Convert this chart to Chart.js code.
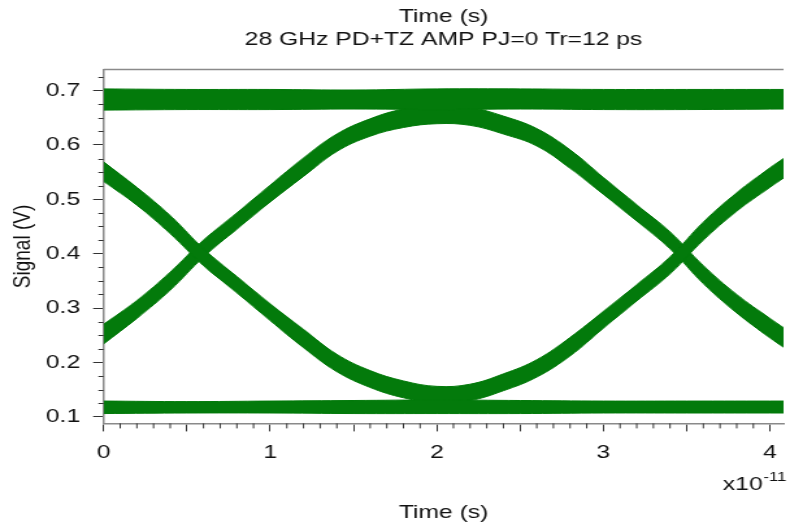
<!DOCTYPE html>
<html>
<head>
<meta charset="utf-8">
<script src="https://cdn.jsdelivr.net/npm/chart.js@4.4.1/dist/chart.umd.min.js"></script>
<style>
  html, body { margin: 0; padding: 0; background: #fff; }
</style>
</head>
<body>
<!-- the source picture is stretched sideways, so the canvas is drawn narrow and shown wide -->
<canvas id="eye" width="608" height="526" style="display:block;width:790px;height:526px"></canvas>
<script>
// time in units of 1e-11 s
const edgeTime = [0, 0.2, 0.4, 0.6, 0.8, 1.0, 1.2, 1.4, 1.6, 1.8, 2.0, 2.2, 2.4, 2.6, 2.8, 3.0, 3.2, 3.4, 3.6, 3.8, 4.0, 4.081];

// lower arc of the eye (falls from the left, rises to the right)
const lowArcTop = [0.569, 0.522, 0.470, 0.409, 0.358, 0.308, 0.261, 0.215, 0.185, 0.166, 0.156, 0.160, 0.179, 0.205, 0.246, 0.294, 0.343, 0.394, 0.458, 0.512, 0.558, 0.575];
const lowArcBot = [0.533, 0.489, 0.437, 0.378, 0.328, 0.277, 0.227, 0.183, 0.154, 0.135, 0.126, 0.130, 0.148, 0.173, 0.212, 0.263, 0.313, 0.363, 0.425, 0.478, 0.522, 0.539];

// upper arc of the eye (rises from the left, falls to the right)
const highArcTop = [0.270, 0.314, 0.366, 0.425, 0.475, 0.526, 0.576, 0.620, 0.648, 0.666, 0.672, 0.669, 0.653, 0.630, 0.591, 0.540, 0.490, 0.440, 0.378, 0.325, 0.281, 0.264];
const highArcBot = [0.234, 0.281, 0.333, 0.394, 0.445, 0.495, 0.542, 0.588, 0.616, 0.632, 0.639, 0.636, 0.620, 0.598, 0.557, 0.509, 0.460, 0.409, 0.345, 0.291, 0.245, 0.228];

// the flat "1" and "0" levels
const railTime = [0, 0.5, 1.0, 1.5, 2.0, 2.5, 3.0, 3.5, 4.081];
const oneTop = [0.703, 0.702, 0.702, 0.701, 0.703, 0.703, 0.702, 0.702, 0.702];
const oneBot = [0.664, 0.665, 0.665, 0.666, 0.665, 0.666, 0.665, 0.665, 0.666];
const zeroTop = [0.129, 0.128, 0.129, 0.130, 0.131, 0.130, 0.129, 0.129, 0.129];
const zeroBot = [0.106, 0.107, 0.107, 0.106, 0.106, 0.106, 0.107, 0.107, 0.107];

const timeTicks = [0, 0.5, 1, 1.5, 2, 2.5, 3, 3.5, 4];
const voltTicks = [0.1, 0.2, 0.3, 0.4, 0.5, 0.6, 0.7];

const green = '#037a0b';
const font = '"Liberation Sans", Arial, sans-serif';

function pts(xs, ys) {
  return xs.map((t, i) => ({ x: t, y: ys[i] }));
}

// every band is a lower edge plus an upper edge filled down to it
function band(xs, top, bot) {
  const common = {
    borderColor: green,
    backgroundColor: green,
    borderWidth: 1,
    pointRadius: 0,
    tension: 0.4
  };
  return [
    { ...common, data: pts(xs, bot), fill: false },
    { ...common, data: pts(xs, top), fill: '-1' }
  ];
}

const frame = {
  id: 'frame',
  afterDraw(chart) {
    const { ctx, chartArea: a, scales: { x, y } } = chart;
    ctx.save();
    ctx.strokeStyle = '#8a8a8a';
    ctx.lineWidth = 1.5;
    ctx.beginPath();
    ctx.moveTo(a.left, a.top);
    ctx.lineTo(a.right, a.top);
    ctx.stroke();

    // minor ticks
    ctx.strokeStyle = '#333';
    ctx.lineWidth = 1;
    ctx.beginPath();
    for (let i = 1; i <= 40; i++) {
      if (i % 5 === 0) continue;
      const px = x.getPixelForValue(i / 10);
      ctx.moveTo(px, a.bottom);
      ctx.lineTo(px, a.bottom + 5);
    }
    for (let k = 5; k <= 29; k++) {
      if (k % 4 === 0) continue;
      const py = Math.round(y.getPixelForValue(k * 0.025)) + 0.5;
      ctx.moveTo(a.left - 4, py);
      ctx.lineTo(a.left, py);
    }
    ctx.stroke();

    // axis multiplier
    ctx.fillStyle = '#111';
    ctx.font = '19px ' + font;
    ctx.textAlign = 'right';
    ctx.textBaseline = 'alphabetic';
    ctx.fillText('x10', 587, 490);
    ctx.font = '13px ' + font;
    ctx.textAlign = 'left';
    ctx.fillText('-11', 587.5, 481);
    ctx.restore();
  }
};

Chart.defaults.font.family = font;
Chart.defaults.font.size = 19;
Chart.defaults.color = '#111';

new Chart(document.getElementById('eye'), {
  type: 'line',
  data: {
    datasets: [
      ...band(railTime, oneTop, oneBot),
      ...band(railTime, zeroTop, zeroBot),
      ...band(edgeTime, lowArcTop, lowArcBot),
      ...band(edgeTime, highArcTop, highArcBot)
    ]
  },
  options: {
    responsive: false,
    devicePixelRatio: 1,
    animation: false,
    layout: { padding: 0 },
    plugins: {
      legend: { display: false },
      tooltip: { enabled: false },
      title: {
        display: true,
        text: 'Time (s)',
        fullSize: false,
        font: { size: 19, weight: 'normal' },
        color: '#111',
        padding: { top: 5, bottom: 1 }
      },
      subtitle: {
        display: true,
        text: '28 GHz PD+TZ AMP PJ=0 Tr=12 ps',
        fullSize: false,
        font: { size: 19, weight: 'normal' },
        color: '#111',
        padding: { top: 0, bottom: 18 }
      }
    },
    scales: {
      x: {
        type: 'linear',
        min: 0,
        max: 4.081,
        afterBuildTicks: s => { s.ticks = timeTicks.map(v => ({ value: v })); },
        ticks: {
          autoSkip: false,
          maxRotation: 0,
          padding: 10,
          callback: v => (Number.isInteger(v) ? String(v) : '')
        },
        grid: { drawOnChartArea: false, tickLength: 8, tickColor: '#333', tickWidth: 1 },
        border: { color: '#8a8a8a', width: 1.5 },
        title: { display: true, text: 'Time (s)', padding: { top: 27, bottom: 2 } }
      },
      y: {
        type: 'linear',
        min: 0.0879,
        max: 0.7385,
        afterBuildTicks: s => { s.ticks = voltTicks.map(v => ({ value: v })); },
        afterFit: s => { s.width = 79.7; },
        ticks: {
          autoSkip: false,
          padding: 10,
          callback: v => v.toFixed(1)
        },
        grid: { drawOnChartArea: false, tickLength: 8, tickColor: '#333', tickWidth: 1 },
        border: { color: '#8a8a8a', width: 1.5 },
        title: { display: true, text: 'Signal (V)', padding: { top: 6, bottom: 0 } }
      }
    }
  },
  plugins: [frame]
});
</script>
</body>
</html>
